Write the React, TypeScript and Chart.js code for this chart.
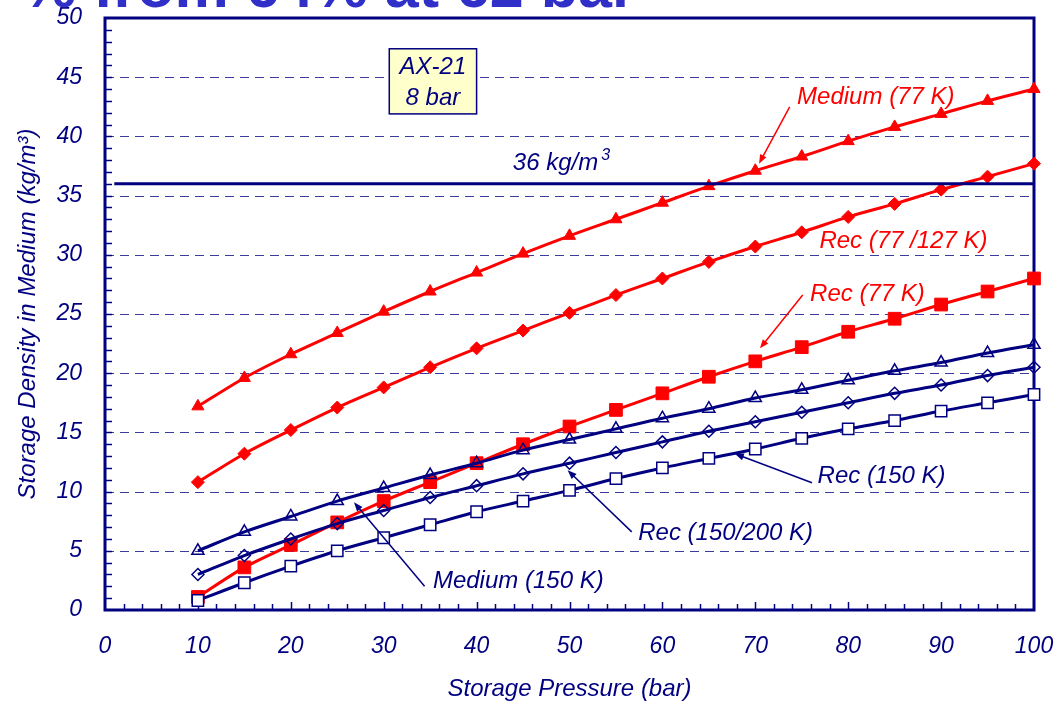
import React, { useEffect, useRef } from "react";
import { Chart, registerables } from "chart.js";

Chart.register(...registerables);

// ---------- data ----------
const pressures = [10, 15, 20, 25, 30, 35, 40, 45, 50, 55, 60, 65, 70, 75, 80, 85, 90, 95, 100];
const medium77 = [17.2, 19.6, 21.6, 23.4, 25.2, 26.9, 28.5, 30.1, 31.6, 33.0, 34.4, 35.8, 37.1, 38.3, 39.6, 40.8, 41.9, 43.0, 44.0];
const rec77_127 = [10.8, 13.2, 15.2, 17.1, 18.8, 20.5, 22.1, 23.6, 25.1, 26.6, 28.0, 29.4, 30.7, 31.9, 33.2, 34.3, 35.5, 36.6, 37.7];
const rec77 = [1.1, 3.6, 5.5, 7.4, 9.2, 10.8, 12.4, 14.0, 15.5, 16.9, 18.3, 19.7, 21.0, 22.2, 23.5, 24.6, 25.8, 26.9, 28.0];
const medium150 = [5.0, 6.6, 7.9, 9.2, 10.3, 11.4, 12.4, 13.5, 14.4, 15.3, 16.2, 17.0, 17.9, 18.6, 19.4, 20.2, 20.9, 21.7, 22.4];
const rec150_200 = [3.0, 4.6, 6.0, 7.3, 8.4, 9.5, 10.5, 11.5, 12.4, 13.3, 14.2, 15.1, 15.9, 16.7, 17.5, 18.3, 19.0, 19.8, 20.5];
const rec150 = [0.8, 2.3, 3.7, 5.0, 6.1, 7.2, 8.3, 9.2, 10.1, 11.1, 12.0, 12.8, 13.6, 14.5, 15.3, 16.0, 16.8, 17.5, 18.2];

const targetDensity = 36;
const targetFrom = 1;
const targetTo = 100;

const xMin = 0;
const xMax = 100;
const xStep = 10;
const yMin = 0;
const yMax = 50;
const yStep = 5;

const titleText = "% from 64% at 62 bar";
const xTitle = "Storage Pressure (bar)";
const yTitle = "Storage Density in Medium (kg/m\u00B3)";
const boxLines = ["AX-21", "8 bar"];
const targetLabel = "36 kg/m";
const targetSup = "3";

// annotation anchors (data units)
const notes = [
  { text: "Medium (77 K)", red: true, x: 74.5, y: 43.3, arrow: [73.7, 42.5, 70.4, 37.7] },
  { text: "Rec (77 /127 K)", red: true, x: 76.9, y: 31.1, arrow: null },
  { text: "Rec (77 K)", red: true, x: 75.9, y: 26.7, arrow: [75.1, 26.6, 70.5, 22.1] },
  { text: "Rec (150 K)", red: false, x: 76.7, y: 11.26, arrow: [76.1, 10.75, 67.8, 13.2] },
  { text: "Rec (150/200 K)", red: false, x: 57.4, y: 6.5, arrow: [56.7, 6.6, 49.8, 11.8] },
  { text: "Medium (150 K)", red: false, x: 35.3, y: 2.4, arrow: [34.4, 2.0, 26.8, 9.1] },
];
const boxRect = { x1: 30.6, x2: 40.0, y1: 47.4, y2: 41.9 };
const boxText = { x: 35.3, y: [45.86, 43.24] };
const targetText = { x: 43.9, y: 37.75 };

// ---------- styles ----------
const NAVY = "#000080";
const RED = "#FF0000";
const FONT = "'Liberation Sans', Arial, sans-serif";

const pts = (vals: number[]) => vals.map((v, i) => ({ x: pressures[i], y: v }));

function drawArrow(ctx: CanvasRenderingContext2D, x1: number, y1: number, x2: number, y2: number, color: string) {
  const ang = Math.atan2(y2 - y1, x2 - x1);
  const len = 9;
  const wid = 3.5;
  ctx.save();
  ctx.strokeStyle = color;
  ctx.fillStyle = color;
  ctx.lineWidth = 1.5;
  ctx.beginPath();
  ctx.moveTo(x1, y1);
  ctx.lineTo(x2 - Math.cos(ang) * len * 0.8, y2 - Math.sin(ang) * len * 0.8);
  ctx.stroke();
  ctx.beginPath();
  ctx.moveTo(x2, y2);
  ctx.lineTo(x2 - Math.cos(ang) * len - Math.sin(ang) * wid, y2 - Math.sin(ang) * len + Math.cos(ang) * wid);
  ctx.lineTo(x2 - Math.cos(ang) * len + Math.sin(ang) * wid, y2 - Math.sin(ang) * len - Math.cos(ang) * wid);
  ctx.closePath();
  ctx.fill();
  ctx.restore();
}

const decor = {
  id: "decor",
  beforeDatasetsDraw(chart: any) {
    const { ctx, chartArea, scales } = chart;
    const { left, right, top, bottom } = chartArea;
    const xs = scales.x;
    const ys = scales.y;
    ctx.save();
    // dashed horizontal grid
    ctx.strokeStyle = "#3c3ca0";
    ctx.lineWidth = 1;
    ctx.setLineDash([9, 6]);
    for (let v = yMin + yStep; v < yMax; v += yStep) {
      const py = Math.round(ys.getPixelForValue(v)) + 0.5;
      ctx.beginPath();
      ctx.moveTo(left, py);
      ctx.lineTo(right, py);
      ctx.stroke();
    }
    ctx.setLineDash([]);
    // minor ticks
    ctx.strokeStyle = NAVY;
    ctx.lineWidth = 1.5;
    for (let v = yMin + 1; v < yMax; v += 1) {
      const py = Math.round(ys.getPixelForValue(v)) + 0.5;
      ctx.beginPath();
      ctx.moveTo(left, py);
      ctx.lineTo(left + 7, py);
      ctx.stroke();
    }
    for (let v = xMin + 2; v < xMax; v += 2) {
      const px = Math.round(xs.getPixelForValue(v)) + 0.5;
      const l = v % 10 === 0 ? 8 : 6;
      ctx.beginPath();
      ctx.moveTo(px, bottom);
      ctx.lineTo(px, bottom - l);
      ctx.stroke();
    }
    // frame
    ctx.lineWidth = 3;
    ctx.strokeStyle = NAVY;
    ctx.strokeRect(left, top, right - left, bottom - top);
    ctx.restore();
  },
  afterDatasetsDraw(chart: any) {
    const { ctx, scales } = chart;
    const xs = scales.x;
    const ys = scales.y;
    const X = (v: number) => xs.getPixelForValue(v);
    const Y = (v: number) => ys.getPixelForValue(v);
    ctx.save();
    // clipped slide title
    ctx.font = `bold 61px ${FONT}`;
    ctx.fillStyle = "#3030C8";
    ctx.textBaseline = "alphabetic";
    ctx.textAlign = "left";
    ctx.fillText(titleText, 22, 7);

    // notes
    ctx.font = `italic 24px ${FONT}`;
    ctx.textBaseline = "middle";
    for (const n of notes) {
      const c = n.red ? RED : NAVY;
      ctx.fillStyle = c;
      ctx.fillText(n.text, X(n.x), Y(n.y));
      if (n.arrow) drawArrow(ctx, X(n.arrow[0]), Y(n.arrow[1]), X(n.arrow[2]), Y(n.arrow[3]), c);
    }

    // 36 kg/m3 label
    ctx.fillStyle = NAVY;
    ctx.font = `italic 24px ${FONT}`;
    const tx = X(targetText.x);
    const ty = Y(targetText.y);
    ctx.fillText(targetLabel, tx, ty);
    const w = ctx.measureText(targetLabel).width;
    ctx.font = `italic 16px ${FONT}`;
    ctx.fillText(targetSup, tx + w + 3, ty - 7);

    // AX-21 box
    const bx1 = X(boxRect.x1);
    const bx2 = X(boxRect.x2);
    const by1 = Y(boxRect.y1);
    const by2 = Y(boxRect.y2);
    ctx.fillStyle = "#FFFFCC";
    ctx.fillRect(bx1, by1, bx2 - bx1, by2 - by1);
    ctx.strokeStyle = NAVY;
    ctx.lineWidth = 1.5;
    ctx.strokeRect(bx1, by1, bx2 - bx1, by2 - by1);
    ctx.fillStyle = NAVY;
    ctx.font = `italic 24px ${FONT}`;
    ctx.textAlign = "center";
    boxLines.forEach((t, i) => ctx.fillText(t, X(boxText.x), Y(boxText.y[i])));
    ctx.restore();
  },
};

export default function App() {
  const ref = useRef<HTMLCanvasElement | null>(null);
  useEffect(() => {
    if (!ref.current) return;
    const common = { clip: false as any, tension: 0.3, borderWidth: 3 };
    const chart = new Chart(ref.current, {
      type: "line",
      data: {
        datasets: [
          { ...common, label: "Target", data: [{ x: targetFrom, y: targetDensity }, { x: targetTo, y: targetDensity }], borderColor: NAVY, pointRadius: 0, tension: 0 },
          { ...common, label: "Medium (150 K)", data: pts(medium150), borderColor: NAVY, pointStyle: "triangle", pointRadius: 7, pointBorderWidth: 1.5, pointBackgroundColor: "rgba(255,255,255,0)", pointBorderColor: NAVY },
          { ...common, label: "Rec (150/200 K)", data: pts(rec150_200), borderColor: NAVY, pointStyle: "rectRot", pointRadius: 6, pointBorderWidth: 1.5, pointBackgroundColor: "rgba(255,255,255,0)", pointBorderColor: NAVY },
          { ...common, label: "Rec (150 K)", data: pts(rec150), borderColor: NAVY, pointStyle: "rect", pointRadius: 8, pointBorderWidth: 1.5, pointBackgroundColor: "#FFFFFF", pointBorderColor: NAVY },
          { ...common, label: "Medium (77 K)", data: pts(medium77), borderColor: RED, pointStyle: "triangle", pointRadius: 7, pointBorderWidth: 1, pointBackgroundColor: RED, pointBorderColor: RED },
          { ...common, label: "Rec (77/127 K)", data: pts(rec77_127), borderColor: RED, pointStyle: "rectRot", pointRadius: 6.5, pointBorderWidth: 1, pointBackgroundColor: RED, pointBorderColor: RED },
          { ...common, label: "Rec (77 K)", data: pts(rec77), borderColor: RED, pointStyle: "rect", pointRadius: 9, pointBorderWidth: 1, pointBackgroundColor: RED, pointBorderColor: RED },
        ],
      },
      options: {
        animation: false,
        responsive: false,
        maintainAspectRatio: false,
        layout: { padding: { top: 18, right: 23, left: 0, bottom: 0 } },
        plugins: { legend: { display: false }, tooltip: { enabled: false } },
        scales: {
          x: {
            type: "linear",
            min: xMin,
            max: xMax,
            grid: { display: false, drawTicks: false },
            border: { display: false },
            ticks: { stepSize: xStep, color: NAVY, padding: 23, font: { family: FONT, size: 23, style: "italic" } },
            title: { display: true, text: xTitle, color: NAVY, padding: { top: 0, bottom: 0 }, font: { family: FONT, size: 24, style: "italic", lineHeight: 1.0 } },
            afterFit: (s: any) => { s.height = 91; s.paddingLeft = 0; s.paddingRight = 0; },
          },
          y: {
            type: "linear",
            min: yMin,
            max: yMax,
            grid: { display: false, drawTicks: false },
            border: { display: false },
            ticks: { stepSize: yStep, color: NAVY, padding: 23, font: { family: FONT, size: 23, style: "italic" } },
            title: { display: true, text: yTitle, color: NAVY, padding: { top: 14, bottom: 0 }, font: { family: FONT, size: 24, style: "italic" } },
            afterFit: (s: any) => { s.width = 105; s.paddingTop = 0; s.paddingBottom = 0; },
          },
        },
      },
      plugins: [decor],
    });
    return () => chart.destroy();
  }, []);
  return (
    <div style={{ position: "fixed", left: 0, top: 0, width: 1057, height: 701, background: "#fff" }}>
      <canvas ref={ref} width={1057} height={701} style={{ display: "block" }} />
    </div>
  );
}
